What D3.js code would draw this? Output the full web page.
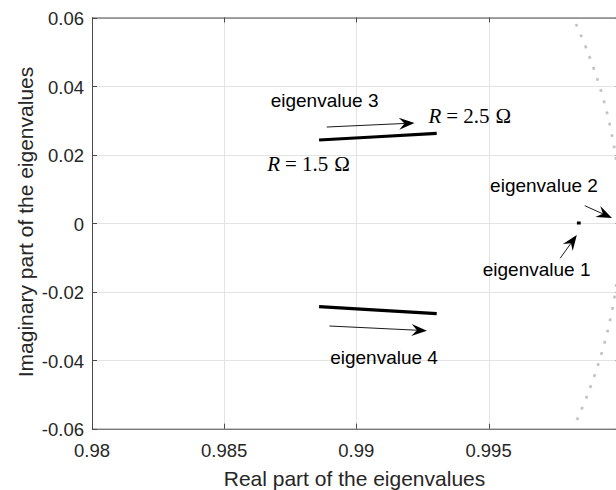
<!DOCTYPE html>
<html>
<head>
	<meta charset="UTF-8">
	<title>Eigenvalues</title>
	<script src="https://cdn.jsdelivr.net/npm/d3@7/dist/d3.min.js"></script>
	<style>
		body { margin: 0; background: #fff; }
		text { font-family: "Liberation Sans", Arial, Helvetica, sans-serif; }
		.tex { font-family: "Liberation Serif", "Times New Roman", serif; }
	</style>
</head>
<body>
<svg id="chart" width="616" height="490"></svg>

<script>
	// axis ticks
	var xTicks = [0.98, 0.985, 0.99, 0.995, 1.0];
	var xTickLabels = ["0.98", "0.985", "0.99", "0.995", ""];
	var yTicks = [-0.06, -0.04, -0.02, 0, 0.02, 0.04, 0.06];
	var yTickLabels = ["-0.06", "-0.04", "-0.02", "0", "0.02", "0.04", "0.06"];

	// eigenvalue trajectories, R from 1.5 to 2.5 ohm
	var eig3Re = [0.98859, 0.99080, 0.99304];
	var eig3Im = [0.02425, 0.02520, 0.02620];
	var eig4Re = [0.98859, 0.99080, 0.99304];
	var eig4Im = [-0.02440, -0.02540, -0.02640];
	var eig1Re = [0.99840, 0.99843];
	var eig1Im = [0, 0];

	// unit circle (stability limit)
	var circleRe = [0.99831, 0.99875, 0.99920, 0.99955, 0.99980, 0.99995, 1.0, 0.99995, 0.99980, 0.99955, 0.99920, 0.99875, 0.99829];
	var circleIm = [0.0581, 0.05, 0.04, 0.03, 0.02, 0.01, 0, -0.01, -0.02, -0.03, -0.04, -0.05, -0.0584];

	// annotations
	var labelText = ["eigenvalue 3", "eigenvalue 2", "eigenvalue 1", "eigenvalue 4"];
	var labelRe = [0.98676, 0.99506, 0.99478, 0.98901];
	var labelIm = [0.03388, 0.00908, -0.01558, -0.04112];
	var texValue = ["2.5", "1.5"];
	var texRe = [0.99273, 0.98663];
	var texIm = [0.02921, 0.01529];
	var arrowFrom = [[0.98888, 0.02804], [0.99864, 0.00508], [0.99771, -0.01027], [0.98898, -0.03003]];
	var arrowTo = [[0.99220, 0.02921], [0.99967, 0.00150], [0.99834, -0.00347], [0.99267, -0.03140]];

	var svg = d3.select("#chart");
	var pLeft = 92, pRight = 620.7, pTop = 17.5, pBottom = 428.7;

	var x = d3.scaleLinear().domain([0.98, 1.0]).range([pLeft, pRight]);
	var y = d3.scaleLinear().domain([-0.06, 0.06]).range([pBottom, pTop]);

	svg.append("defs").append("clipPath").attr("id", "plotClip")
		.append("rect").attr("x", pLeft).attr("y", pTop)
		.attr("width", pRight - pLeft).attr("height", pBottom - pTop);

	// grid
	var grid = svg.append("g");
	grid.selectAll(".gx").data(xTicks).enter().append("line")
		.attr("x1", function (d) { return Math.round(x(d)) + 0.5; })
		.attr("x2", function (d) { return Math.round(x(d)) + 0.5; })
		.attr("y1", pTop).attr("y2", pBottom)
		.attr("stroke", "#e3e3e3").attr("stroke-width", 1);
	grid.selectAll(".gy").data(yTicks).enter().append("line")
		.attr("y1", function (d) { return Math.round(y(d)) + 0.5; })
		.attr("y2", function (d) { return Math.round(y(d)) + 0.5; })
		.attr("x1", pLeft).attr("x2", pRight)
		.attr("stroke", "#e3e3e3").attr("stroke-width", 1);

	var plot = svg.append("g").attr("clip-path", "url(#plotClip)");

	// unit circle, dotted grey
	var circlePts = circleRe.map(function (d, i) { return [d, circleIm[i]]; });
	plot.append("path")
		.attr("d", d3.line().x(function (d) { return x(d[0]); }).y(function (d) { return y(d[1]); })
			.curve(d3.curveCatmullRom)(circlePts))
		.attr("fill", "none").attr("stroke", "#c4c4c4")
		.attr("stroke-width", 2.8).attr("stroke-dasharray", "2.8,8.8");

	// trajectories
	var line = d3.line().x(function (d) { return x(d[0]); }).y(function (d) { return y(d[1]); });
	[[eig3Re, eig3Im], [eig4Re, eig4Im]].forEach(function (s) {
		var pts = s[0].map(function (d, i) { return [d, s[1][i]]; });
		plot.append("path").attr("d", line(pts))
			.attr("fill", "none").attr("stroke", "#000").attr("stroke-width", 3.2);
	});
	var e1 = eig1Re.map(function (d, i) { return [d, eig1Im[i]]; });
	plot.append("path").attr("d", line(e1))
		.attr("fill", "none").attr("stroke", "#000").attr("stroke-width", 3)
		.attr("stroke-linecap", "square");

	// axes box and ticks
	var axisColor = "#4a4a4a";
	var ax = svg.append("g").attr("stroke", axisColor).attr("stroke-width", 1).attr("fill", "none");
	ax.append("line").attr("x1", pLeft).attr("x2", pRight).attr("y1", pTop + 0.5).attr("y2", pTop + 0.5);
	ax.append("line").attr("x1", pLeft).attr("x2", pRight).attr("y1", pBottom + 0.5).attr("y2", pBottom + 0.5);
	ax.append("line").attr("x1", pLeft + 0.5).attr("x2", pLeft + 0.5).attr("y1", pTop).attr("y2", pBottom + 1);
	ax.append("line").attr("x1", pRight).attr("x2", pRight).attr("y1", pTop).attr("y2", pBottom + 1);
	xTicks.forEach(function (d) {
		var px = Math.round(x(d)) + 0.5;
		ax.append("line").attr("x1", px).attr("x2", px).attr("y1", pBottom).attr("y2", pBottom - 5);
		ax.append("line").attr("x1", px).attr("x2", px).attr("y1", pTop).attr("y2", pTop + 5);
	});
	yTicks.forEach(function (d) {
		var py = Math.round(y(d)) + 0.5;
		ax.append("line").attr("y1", py).attr("y2", py).attr("x1", pLeft).attr("x2", pLeft + 5);
		ax.append("line").attr("y1", py).attr("y2", py).attr("x1", pRight).attr("x2", pRight - 5);
	});

	// tick labels
	svg.append("g").selectAll("text").data(xTicks).enter().append("text")
		.attr("x", function (d) { return x(d); })
		.attr("y", 457)
		.attr("text-anchor", "middle")
		.attr("font-size", 18.5).attr("fill", "#262626")
		.text(function (d, i) { return xTickLabels[i]; });
	svg.append("g").selectAll("text").data(yTicks).enter().append("text")
		.attr("x", 84)
		.attr("y", function (d) { return y(d) + 7.5; })
		.attr("text-anchor", "end")
		.attr("font-size", 18.5).attr("fill", "#262626")
		.text(function (d, i) { return yTickLabels[i]; });

	// axis titles
	svg.append("text")
		.attr("x", (223 + 486) / 2).attr("y", 486)
		.attr("text-anchor", "middle").attr("font-size", 21).attr("fill", "#262626")
		.text("Real part of the eigenvalues");
	svg.append("text")
		.attr("transform", "translate(33," + 222 + ") rotate(-90)")
		.attr("text-anchor", "middle").attr("font-size", 21).attr("fill", "#262626")
		.text("Imaginary part of the eigenvalues");

	// annotation labels
	svg.append("g").selectAll("text").data(labelText).enter().append("text")
		.attr("x", function (d, i) { return x(labelRe[i]); })
		.attr("y", function (d, i) { return y(labelIm[i]); })
		.attr("font-size", 19).attr("fill", "#000")
		.text(function (d) { return d; });

	texValue.forEach(function (v, i) {
		var t = svg.append("text").attr("class", "tex")
			.attr("x", x(texRe[i])).attr("y", y(texIm[i]))
			.attr("font-size", 21).attr("fill", "#000");
		t.append("tspan").attr("font-style", "italic").text("R");
		t.append("tspan").attr("dx", 5).text("=");
		t.append("tspan").attr("dx", 5).text(v);
		t.append("tspan").attr("dx", 6).text("\u03A9");
	});

	// arrows
	var arrows = svg.append("g");
	arrowFrom.forEach(function (a, i) {
		var x0 = x(a[0]), y0 = y(a[1]);
		var x1 = x(arrowTo[i][0]), y1 = y(arrowTo[i][1]);
		var dx = x1 - x0, dy = y1 - y0;
		var len = Math.sqrt(dx * dx + dy * dy);
		var ux = dx / len, uy = dy / len;
		var nx = -uy, ny = ux;
		var L = 15.5, W = 6, N = 10;
		arrows.append("line")
			.attr("x1", x0).attr("y1", y0)
			.attr("x2", x1 - ux * N).attr("y2", y1 - uy * N)
			.attr("stroke", "#000").attr("stroke-width", 0.9);
		var head = [
			[x1, y1],
			[x1 - ux * L + nx * W, y1 - uy * L + ny * W],
			[x1 - ux * N, y1 - uy * N],
			[x1 - ux * L - nx * W, y1 - uy * L - ny * W]
		];
		arrows.append("path")
			.attr("d", "M" + head.map(function (p) { return p[0] + "," + p[1]; }).join("L") + "Z")
			.attr("fill", "#000");
	});
</script>
</body>
</html>
